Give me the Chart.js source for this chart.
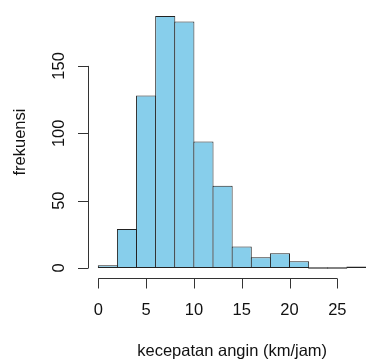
<!DOCTYPE html>
<html>
<head>
<meta charset="utf-8">
<script src="https://cdn.jsdelivr.net/npm/chart.js@4"></script>
<style>
  html, body { margin: 0; padding: 0; background: #fff; overflow: hidden; }
  #wrap { position: relative; width: 366px; height: 363px; }
</style>
</head>
<body>
<div id="wrap"><canvas id="histogram"></canvas></div>
<script>
// histogram bins (left edge, width 2) and frequencies
const binWidth = 2;
const binLow = [0, 2, 4, 6, 8, 10, 12, 14, 16, 18, 20, 22, 24, 26];
const counts = [2, 29, 128, 187, 183, 94, 61, 16, 8, 11, 5, 0, 0, 1];

const xTicks = [0, 5, 10, 15, 20, 25];
const yTicks = [0, 50, 100, 150];
const xTitle = 'kecepatan angin (km/jam)';
const yTitle = 'frekuensi';

const FONT = "16.5px 'Liberation Sans', Arial, sans-serif";

// R-style detached axes, drawn with the chart's scales
const rAxes = {
    id: 'rAxes',
    afterDraw(chart) {
        const c = chart.ctx;
        const xs = chart.scales.x, ys = chart.scales.y;
        const area = chart.chartArea;
        c.save();
        c.strokeStyle = '#333';
        c.lineWidth = 1;
        c.fillStyle = '#111';
        c.font = FONT;

        // y axis on the left edge of the plot region
        const ax = Math.round(area.left) + 0.5;
        const y0 = ys.getPixelForValue(yTicks[0]);
        const y1 = ys.getPixelForValue(yTicks[yTicks.length - 1]);
        c.beginPath();
        c.moveTo(ax, y0);
        c.lineTo(ax, y1);
        yTicks.forEach(v => {
            const py = Math.round(ys.getPixelForValue(v)) + 0.5;
            c.moveTo(ax, py);
            c.lineTo(ax - 10.5, py);
        });
        c.stroke();
        c.textAlign = 'center';
        c.textBaseline = 'alphabetic';
        yTicks.forEach(v => {
            c.save();
            c.translate(63.5, ys.getPixelForValue(v));
            c.rotate(-Math.PI / 2);
            c.fillText(String(v), 0, 0);
            c.restore();
        });

        // x axis below the plot region
        const ay = Math.round(area.bottom) + 0.5;
        const x0 = xs.getPixelForValue(xTicks[0]);
        const x1 = xs.getPixelForValue(xTicks[xTicks.length - 1]);
        c.beginPath();
        c.moveTo(x0, ay);
        c.lineTo(x1, ay);
        xTicks.forEach(v => {
            const px = Math.round(xs.getPixelForValue(v)) + 0.5;
            c.moveTo(px, ay);
            c.lineTo(px, ay + 10);
        });
        c.stroke();
        xTicks.forEach(v => {
            c.fillText(String(v), xs.getPixelForValue(v), 315);
        });

        // axis titles
        c.fillText(xTitle, (area.left + xs.getPixelForValue(29.12)) / 2, 356);
        c.save();
        c.translate(25, (area.top + area.bottom) / 2);
        c.rotate(-Math.PI / 2);
        c.fillText(yTitle, 0, 0);
        c.restore();
        c.restore();
    }
};

new Chart(document.getElementById('histogram'), {
    type: 'bar',
    data: {
        datasets: [{
            data: binLow.map((lo, i) => ({ x: lo + binWidth / 2, y: counts[i] })),
            backgroundColor: '#87CEEB',
            borderColor: '#222',
            borderWidth: 1,
            borderSkipped: false,
            minBarLength: 1.4,
            categoryPercentage: 1,
            barPercentage: 1.052
        }]
    },
    options: {
        responsive: true,
        maintainAspectRatio: false,
        animation: false,
        layout: { padding: { left: 87.6, right: 0, top: 6, bottom: 84.9 } },
        plugins: { legend: { display: false }, tooltip: { enabled: false } },
        scales: {
            x: {
                type: 'linear',
                display: false,
                offset: false,
                min: -1.12,
                max: 28,
                afterBuildTicks: s => { s.ticks = xTicks.map(v => ({ value: v })); }
            },
            y: {
                display: false,
                min: -7.48,
                max: 194.48
            }
        }
    },
    plugins: [rAxes]
});
</script>
</body>
</html>
